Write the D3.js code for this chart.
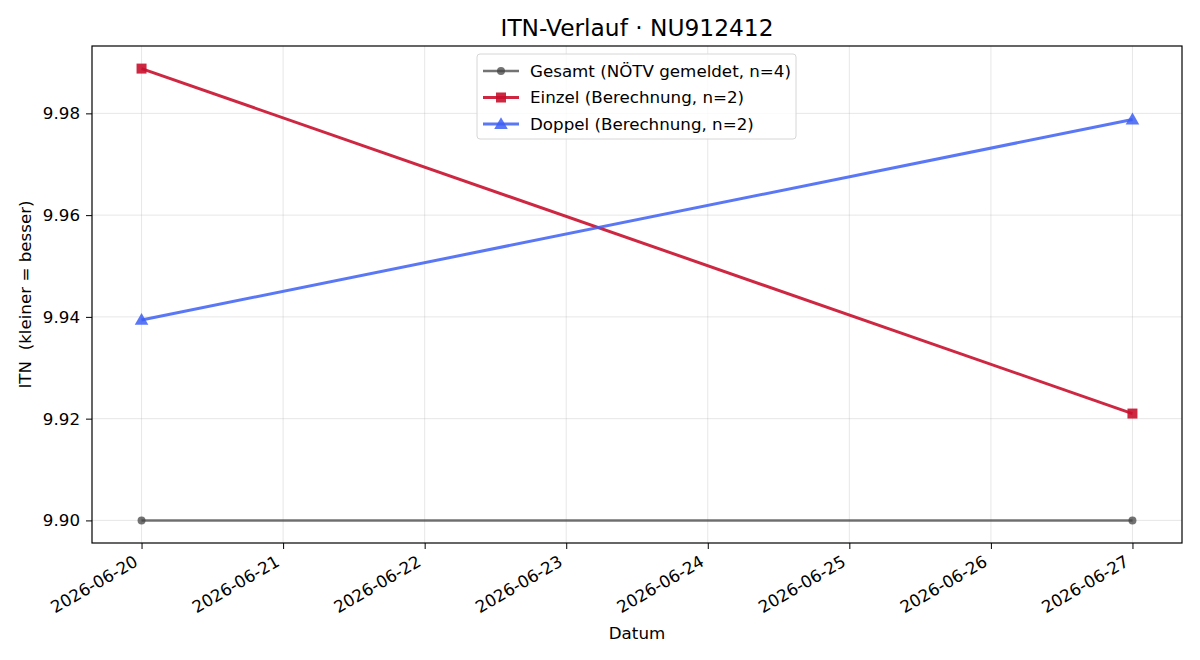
<!DOCTYPE html>
<html>
<head>
<meta charset="utf-8">
<script src="https://cdn.jsdelivr.net/npm/d3@7"></script>
<style>
  body { margin: 0; background: #fff; }
  svg, svg text { font-family: "DejaVu Sans", sans-serif; }
</style>
</head>
<body>
<svg id="chart" width="1200" height="660"></svg>
<script>
// data
const dates = ["2026-06-20", "2026-06-27"];
const gesamt = [9.900, 9.900];
const einzel = [9.9888, 9.9210];
const doppel = [9.9394, 9.9788];
const yTicks = [9.90, 9.92, 9.94, 9.96, 9.98];
const seriesNames = ["Gesamt (NÖTV gemeldet, n=4)", "Einzel (Berechnung, n=2)", "Doppel (Berechnung, n=2)"];

const parse = d3.utcParse("%Y-%m-%d");
const fmtDay = d3.utcFormat("%Y-%m-%d");
const FS = 16.7;

const series = [
  { name: seriesNames[0], vals: gesamt, color: "#444444", lineOpacity: 0.75, marker: "circle", width: 2.5 },
  { name: seriesNames[1], vals: einzel, color: "#c8102e", lineOpacity: 0.9, marker: "square", width: 3 },
  { name: seriesNames[2], vals: doppel, color: "#3d5ff5", lineOpacity: 0.85, marker: "triangle", width: 3 }
];

const svg = d3.select("#chart");
const m = { left: 92, right: 1182, top: 46, bottom: 543 };

const xs = dates.map(parse);
const span = xs[1] - xs[0];
const x = d3.scaleUtc()
  .domain([new Date(+xs[0] - span * 0.05), new Date(+xs[1] + span * 0.05)])
  .range([m.left, m.right]);

const allVals = gesamt.concat(einzel, doppel);
const yMin = d3.min(allVals), yMax = d3.max(allVals), pad = (yMax - yMin) * 0.05;
const y = d3.scaleLinear().domain([yMin - pad, yMax + pad]).range([m.bottom, m.top]);

const xTicks = d3.utcDay.range(xs[0], new Date(+xs[1] + 1));

// grid
const grid = svg.append("g");
grid.selectAll(".gx").data(xTicks).join("line")
  .attr("x1", d => x(d)).attr("x2", d => x(d))
  .attr("y1", m.top).attr("y2", m.bottom)
  .attr("stroke", "#b0b0b0").attr("stroke-opacity", 0.3).attr("stroke-width", 1);
grid.selectAll(".gy").data(yTicks).join("line")
  .attr("x1", m.left).attr("x2", m.right)
  .attr("y1", d => y(d)).attr("y2", d => y(d))
  .attr("stroke", "#b0b0b0").attr("stroke-opacity", 0.3).attr("stroke-width", 1);

// axes
const xAxis = svg.append("g").attr("transform", `translate(0,${m.bottom})`)
  .call(d3.axisBottom(x).tickValues(xTicks).tickFormat(fmtDay).tickSize(6).tickPadding(4));
xAxis.attr("font-family", null).attr("font-size", null);
xAxis.select(".domain").remove();
xAxis.selectAll("text")
  .attr("font-size", FS).attr("fill", "#000")
  .attr("text-anchor", "end")
  .attr("dy", null).attr("y", 0)
  .attr("transform", "translate(-3,22) rotate(-30)");
xAxis.selectAll("line").attr("stroke", "#000").attr("stroke-width", 1);

const yAxis = svg.append("g").attr("transform", `translate(${m.left},0)`)
  .call(d3.axisLeft(y).tickValues(yTicks).tickFormat(d3.format(".2f")).tickSize(6).tickPadding(6));
yAxis.attr("font-family", null).attr("font-size", null);
yAxis.select(".domain").remove();
yAxis.selectAll("text").attr("font-size", FS).attr("fill", "#000");
yAxis.selectAll("line").attr("stroke", "#000").attr("stroke-width", 1);

// lines and markers
const line = d3.line().x((d, i) => x(xs[i])).y(d => y(d));
const sym = { circle: d3.symbolCircle, square: d3.symbolSquare, triangle: d3.symbolTriangle };
const symSize = { circle: 50, square: 100, triangle: 80 };

series.forEach(s => {
  svg.append("path").datum(s.vals)
    .attr("d", line).attr("fill", "none")
    .attr("stroke", s.color).attr("stroke-opacity", s.lineOpacity)
    .attr("stroke-width", s.width);
  svg.selectAll(null).data(s.vals).join("path")
    .attr("d", d3.symbol(sym[s.marker], symSize[s.marker]))
    .attr("transform", (d, i) => `translate(${x(xs[i])},${y(d) + (s.marker === "triangle" ? 1 : 0)})`)
    .attr("fill", s.color).attr("fill-opacity", s.lineOpacity);
});

// frame
svg.append("rect")
  .attr("x", m.left).attr("y", m.top)
  .attr("width", m.right - m.left).attr("height", m.bottom - m.top)
  .attr("fill", "none").attr("stroke", "#000").attr("stroke-width", 1.2);

// legend
const lg = svg.append("g").attr("transform", "translate(477,54)");
lg.append("rect").attr("width", 319).attr("height", 85).attr("rx", 3)
  .attr("fill", "#fff").attr("fill-opacity", 0.8)
  .attr("stroke", "#d6d6d6").attr("stroke-width", 1);
series.forEach((s, i) => {
  const cy = 17 + i * 26.5;
  lg.append("line").attr("x1", 6).attr("x2", 42).attr("y1", cy).attr("y2", cy)
    .attr("stroke", s.color).attr("stroke-opacity", s.lineOpacity).attr("stroke-width", s.width);
  lg.append("path")
    .attr("d", d3.symbol(sym[s.marker], symSize[s.marker]))
    .attr("transform", `translate(24,${cy + (s.marker === "triangle" ? 1 : 0)})`)
    .attr("fill", s.color).attr("fill-opacity", s.lineOpacity);
  lg.append("text").attr("x", 53).attr("y", cy).attr("dy", "0.35em")
    .attr("font-size", FS).text(s.name);
});

// titles
svg.append("text").attr("x", (m.left + m.right) / 2).attr("y", 36)
  .attr("text-anchor", "middle").attr("font-size", 23.3).text("ITN-Verlauf · NU912412");
svg.append("text").attr("x", (m.left + m.right) / 2).attr("y", 639)
  .attr("text-anchor", "middle").attr("font-size", FS).text("Datum");
svg.append("text")
  .attr("transform", `translate(31,${(m.top + m.bottom) / 2}) rotate(-90)`)
  .attr("text-anchor", "middle").attr("font-size", FS).attr("xml:space", "preserve")
  .style("white-space", "pre").text("ITN  (kleiner = besser)");
</script>
</body>
</html>
